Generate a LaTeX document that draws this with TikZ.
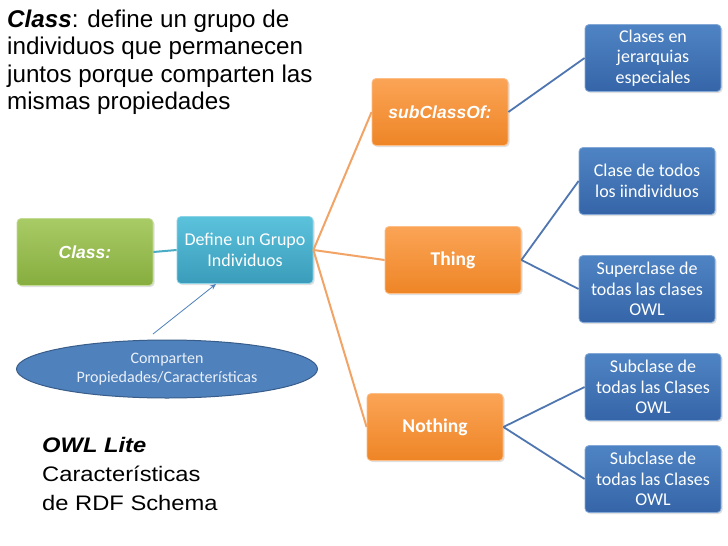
\documentclass[tikz,border=0pt]{standalone}
\usepackage{fontspec}
\setmainfont{Liberation Sans}
\newfontfamily\carl{Carlito}
\newfontfamily\widesans[FakeStretch=1.13]{Liberation Sans}
\usetikzlibrary{shapes.geometric,shadows,arrows.meta}
\definecolor{gtop}{HTML}{A9CB66}\definecolor{gbot}{HTML}{86AD3E}
\definecolor{ttop}{HTML}{5BC2DC}\definecolor{tbot}{HTML}{3A9CBA}
\definecolor{otop}{HTML}{FBA456}\definecolor{obot}{HTML}{EE8526}
\definecolor{btop}{HTML}{4F84C4}\definecolor{bbot}{HTML}{3565A8}
\definecolor{ellfill}{HTML}{4F81BD}\definecolor{elldraw}{HTML}{385D8A}
\definecolor{teall}{HTML}{4BACC6}\definecolor{orl}{HTML}{F2A466}\definecolor{bll}{HTML}{4F76B0}
\begin{document}
\begin{tikzpicture}[x=1pt,y=-1pt,
  box/.style={rounded corners=4pt, minimum width=136pt, minimum height=67pt, align=center,
    text=white, inner sep=2pt, line width=0.8pt,
    drop shadow={shadow xshift=1.5pt,shadow yshift=-1.5pt,opacity=0.25}},
  gbox/.style={box, top color=gtop, bottom color=gbot, draw=gtop!70!white},
  tbox/.style={box, top color=ttop, bottom color=tbot, draw=ttop!70!white},
  obox/.style={box, top color=otop, bottom color=obot, draw=otop!70!white},
  bbox/.style={box, top color=btop, bottom color=bbot, draw=btop!70!white},
  cfont/.style={font=\carl\fontsize{18}{20.5}\selectfont},
  afont/.style={font=\bfseries\itshape\fontsize{17.5}{20}\selectfont},
  tealline/.style={draw=teall, line width=2pt},
  orline/.style={draw=orl, line width=2pt},
  blline/.style={draw=bll, line width=1.8pt}
]
\useasboundingbox[fill=white] (0,0) rectangle (728,546);

% top-left text
\node[anchor=north west, inner sep=0, align=left, font=\fontsize{24.2}{27.5}\selectfont]
  (desc) at (7,9.5) {\textbf{\textit{Class}}: define un grupo de\\individuos que permanecen\\juntos porque comparten las\\mismas propiedades};

% bottom-left text
\node[anchor=north west, inner sep=0, align=left, font=\widesans\fontsize{21}{29}\selectfont]
  (owl) at (42,436.8) {\textbf{\textit{OWL Lite}}\\Características\\de RDF Schema};

% main boxes
\node[gbox, afont] (class) at (85,252) {Class:};
\node[tbox, cfont] (def) at (245,250) {Define un Grupo\\Individuos};
\node[obox, afont] (sub) at (440,112) {subClassOf:};
\node[obox, font=\carl\bfseries\fontsize{19.5}{21}\selectfont] (thing) at (453,260) {Thing};
\node[obox, font=\carl\bfseries\fontsize{19.5}{21}\selectfont] (nothing) at (435,427) {Nothing};

\node[bbox, cfont] (c1) at (653,58) {Clases en\\jerarquias\\especiales};
\node[bbox, cfont] (c2) at (647,181) {Clase de todos\\los iindividuos};
\node[bbox, cfont] (c3) at (647,289) {Superclase de\\todas las clases\\OWL};
\node[bbox, cfont] (c4) at (653,387) {Subclase de\\todas las Clases\\OWL};
\node[bbox, cfont] (c5) at (653,479) {Subclase de\\todas las Clases\\OWL};

% ellipse
\node[ellipse, fill=ellfill, draw=elldraw, line width=1pt, minimum width=301pt, minimum height=58pt,
  inner sep=0, align=center, text=white!88!ellfill, font=\carl\fontsize{16}{19.5}\selectfont]
  (ell) at (167,369) {Comparten\\Propiedades/Características};

% connectors
\draw[tealline] (class.east) -- (def.west);
\draw[orline] (def.east) -- (sub.west);
\draw[orline] (def.east) -- (thing.west);
\draw[orline] (def.east) -- (nothing.west);
\draw[blline] (sub.east) -- (c1.west);
\draw[blline] (thing.east) -- (c2.west);
\draw[blline] (thing.east) -- (c3.west);
\draw[blline] (nothing.east) -- (c4.west);
\draw[blline] (nothing.east) -- (c5.west);

\coordinate (as) at (153,334);
\coordinate (ae) at (216,284);
\draw[draw=ellfill, line width=0.8pt, -{Stealth[length=6pt,width=5pt]}] (as) -- (ae);
\end{tikzpicture}
\end{document}
